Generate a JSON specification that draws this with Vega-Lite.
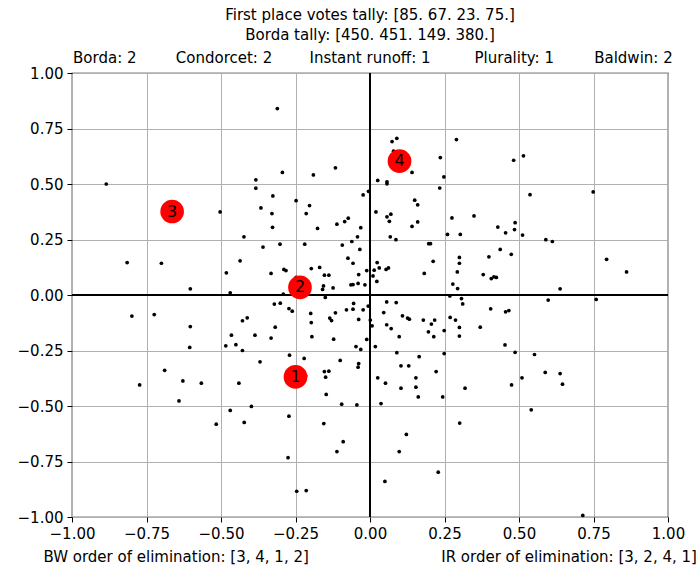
{
  "$schema": "https://vega.github.io/schema/vega-lite/v6.json",
  "width": 596,
  "height": 444,
  "autosize": {"type": "none"},
  "padding": {"left": 72, "top": 73, "right": 31, "bottom": 50},
  "background": "white",
  "title": {
    "text": ["First place votes tally: [85. 67. 23. 75.]", "Borda tally: [450. 451. 149. 380.]"],
    "font": "DejaVu Sans",
    "fontSize": 15,
    "fontWeight": "normal",
    "color": "black",
    "anchor": "middle",
    "frame": "group",
    "lineHeight": 20,
    "offset": 8
  },
  "config": {
    "view": {"stroke": "black", "strokeWidth": 1.2},
    "axis": {
      "labelFont": "DejaVu Sans",
      "labelFontSize": 15,
      "labelColor": "black",
      "tickColor": "black",
      "tickSize": 5,
      "tickWidth": 1,
      "labelPadding": 4,
      "domain": false,
      "grid": true,
      "gridColor": "#b0b0b0",
      "gridWidth": 1,
      "labelFlush": false,
      "labelOverlap": false,
      "title": null
    }
  },
  "datasets": {
    "voters": [
      {"x": -0.885, "y": 0.5}, {"x": -0.383, "y": 0.519}, {"x": -0.383, "y": 0.481}, {"x": -0.503, "y": 0.374}, {"x": -0.366, "y": 0.392},
      {"x": -0.311, "y": 0.84}, {"x": 0.074, "y": 0.691}, {"x": 0.09, "y": 0.706}, {"x": 0.079, "y": 0.648}, {"x": 0.29, "y": 0.7}, {"x": 0.236, "y": 0.619}, {"x": 0.141, "y": 0.552}, {"x": 0.248, "y": 0.532}, {"x": 0.234, "y": 0.482}, {"x": 0.026, "y": 0.516}, {"x": 0.057, "y": 0.51}, {"x": 0.057, "y": 0.501}, {"x": -0.294, "y": 0.552}, {"x": -0.19, "y": 0.541}, {"x": -0.116, "y": 0.573}, {"x": -0.326, "y": 0.446}, {"x": -0.329, "y": 0.367}, {"x": -0.248, "y": 0.425}, {"x": -0.203, "y": 0.403}, {"x": -0.214, "y": 0.367}, {"x": -0.023, "y": 0.451}, {"x": -0.005, "y": 0.467}, {"x": 0.02, "y": 0.374}, {"x": 0.057, "y": 0.352}, {"x": 0.07, "y": 0.364}, {"x": 0.065, "y": 0.332}, {"x": 0.15, "y": 0.427}, {"x": 0.16, "y": 0.406}, {"x": 0.16, "y": 0.329}, {"x": 0.275, "y": 0.347}, {"x": -0.085, "y": 0.331}, {"x": -0.073, "y": 0.346},
      {"x": 0.482, "y": 0.607}, {"x": 0.515, "y": 0.627}, {"x": 0.537, "y": 0.452}, {"x": 0.749, "y": 0.464}, {"x": 0.349, "y": 0.356}, {"x": 0.487, "y": 0.326},
      {"x": -0.327, "y": 0.305}, {"x": -0.423, "y": 0.262}, {"x": -0.359, "y": 0.216}, {"x": -0.815, "y": 0.146}, {"x": -0.7, "y": 0.143}, {"x": -0.436, "y": 0.154}, {"x": -0.482, "y": 0.1}, {"x": -0.332, "y": 0.097}, {"x": -0.603, "y": 0.028}, {"x": -0.469, "y": 0.01}, {"x": -0.799, "y": -0.095}, {"x": -0.724, "y": -0.088}, {"x": -0.603, "y": -0.142}, {"x": -0.428, "y": -0.116}, {"x": -0.412, "y": -0.103}, {"x": -0.465, "y": -0.181}, {"x": -0.386, "y": -0.181}, {"x": -0.332, "y": -0.194}, {"x": -0.605, "y": -0.236}, {"x": -0.484, "y": -0.229}, {"x": -0.45, "y": -0.224}, {"x": -0.428, "y": -0.25}, {"x": -0.369, "y": -0.301}, {"x": -0.689, "y": -0.339},
      {"x": -0.176, "y": 0.3}, {"x": -0.111, "y": 0.319}, {"x": -0.031, "y": 0.303}, {"x": 0.141, "y": 0.309},
      {"x": -0.302, "y": 0.229}, {"x": -0.219, "y": 0.229}, {"x": -0.042, "y": 0.262}, {"x": -0.061, "y": 0.241}, {"x": -0.093, "y": 0.225}, {"x": -0.034, "y": 0.205}, {"x": 0.068, "y": 0.262}, {"x": 0.087, "y": 0.249}, {"x": 0.197, "y": 0.231}, {"x": 0.203, "y": 0.231}, {"x": 0.26, "y": 0.273}, {"x": 0.303, "y": 0.273},
      {"x": -0.074, "y": 0.166}, {"x": -0.057, "y": 0.143}, {"x": 0.212, "y": 0.152}, {"x": 0.3, "y": 0.169}, {"x": 0.3, "y": 0.143},
      {"x": -0.289, "y": 0.115}, {"x": -0.282, "y": 0.11}, {"x": -0.197, "y": 0.119}, {"x": -0.169, "y": 0.124}, {"x": -0.153, "y": 0.089}, {"x": -0.138, "y": 0.089}, {"x": -0.248, "y": 0.079},
      {"x": -0.038, "y": 0.092}, {"x": -0.011, "y": 0.11}, {"x": 0.014, "y": 0.112}, {"x": 0.031, "y": 0.122}, {"x": 0.024, "y": 0.146}, {"x": 0.054, "y": 0.115}, {"x": 0.062, "y": 0.122}, {"x": 0.01, "y": 0.086}, {"x": 0.023, "y": 0.061},
      {"x": 0.182, "y": 0.097}, {"x": 0.293, "y": 0.104}, {"x": 0.278, "y": 0.049}, {"x": 0.294, "y": 0.029},
      {"x": -0.156, "y": 0.041}, {"x": -0.159, "y": 0.025}, {"x": -0.124, "y": 0.032}, {"x": -0.064, "y": 0.046}, {"x": -0.057, "y": 0.047}, {"x": -0.04, "y": 0.052}, {"x": -0.017, "y": 0.046},
      {"x": -0.291, "y": 0.004}, {"x": -0.321, "y": -0.041}, {"x": -0.301, "y": -0.037}, {"x": -0.15, "y": -0.011}, {"x": 0.268, "y": -0.004}, {"x": 0.307, "y": -0.016}, {"x": 0.311, "y": -0.04},
      {"x": -0.055, "y": -0.038}, {"x": -0.006, "y": -0.05}, {"x": 0.056, "y": -0.031}, {"x": 0.088, "y": -0.034},
      {"x": -0.272, "y": -0.061}, {"x": -0.261, "y": -0.073}, {"x": -0.199, "y": -0.083}, {"x": -0.116, "y": -0.08}, {"x": -0.079, "y": -0.067}, {"x": -0.057, "y": -0.064}, {"x": -0.023, "y": -0.067},
      {"x": -0.135, "y": -0.104}, {"x": -0.129, "y": -0.115}, {"x": -0.197, "y": -0.124}, {"x": -0.038, "y": -0.11}, {"x": 0.001, "y": -0.113}, {"x": 0.046, "y": -0.079}, {"x": 0.109, "y": -0.094}, {"x": 0.126, "y": -0.104}, {"x": 0.132, "y": -0.109}, {"x": 0.179, "y": -0.113}, {"x": 0.206, "y": -0.131}, {"x": 0.217, "y": -0.113}, {"x": 0.269, "y": -0.101}, {"x": 0.287, "y": -0.113}, {"x": 0.3, "y": -0.146}, {"x": 0.249, "y": -0.16}, {"x": 0.196, "y": -0.166}, {"x": 0.214, "y": -0.188}, {"x": 0.3, "y": -0.185},
      {"x": 0.007, "y": -0.139}, {"x": 0.056, "y": -0.134}, {"x": 0.071, "y": -0.151}, {"x": 0.098, "y": -0.188},
      {"x": -0.318, "y": -0.145}, {"x": -0.195, "y": -0.188}, {"x": -0.122, "y": -0.199}, {"x": -0.011, "y": -0.2}, {"x": -0.047, "y": -0.232}, {"x": -0.031, "y": -0.245}, {"x": 0.018, "y": -0.232}, {"x": 0.09, "y": -0.26}, {"x": 0.165, "y": -0.278}, {"x": 0.249, "y": -0.264},
      {"x": -0.27, "y": -0.271}, {"x": -0.221, "y": -0.286}, {"x": -0.1, "y": -0.295}, {"x": -0.038, "y": -0.309}, {"x": -0.04, "y": -0.325}, {"x": 0.104, "y": -0.319}, {"x": 0.13, "y": -0.319}, {"x": 0.222, "y": -0.345}, {"x": -0.153, "y": -0.345}, {"x": -0.138, "y": -0.343},
      {"x": 0.429, "y": 0.306}, {"x": 0.485, "y": 0.295}, {"x": 0.455, "y": 0.28}, {"x": 0.512, "y": 0.27}, {"x": 0.59, "y": 0.249}, {"x": 0.612, "y": 0.241}, {"x": 0.437, "y": 0.205}, {"x": 0.399, "y": 0.172}, {"x": 0.474, "y": 0.183}, {"x": 0.794, "y": 0.161}, {"x": 0.861, "y": 0.104}, {"x": 0.38, "y": 0.092}, {"x": 0.407, "y": 0.074}, {"x": 0.416, "y": 0.082}, {"x": 0.424, "y": 0.079}, {"x": 0.638, "y": 0.028}, {"x": 0.598, "y": -0.023}, {"x": 0.759, "y": -0.02}, {"x": 0.405, "y": -0.062}, {"x": 0.455, "y": -0.076}, {"x": 0.466, "y": -0.07}, {"x": 0.37, "y": -0.145}, {"x": 0.453, "y": -0.225}, {"x": 0.487, "y": -0.258}, {"x": 0.552, "y": -0.268},
      {"x": -0.773, "y": -0.405}, {"x": -0.628, "y": -0.387}, {"x": -0.566, "y": -0.397}, {"x": -0.641, "y": -0.477}, {"x": -0.44, "y": -0.397}, {"x": -0.398, "y": -0.502}, {"x": -0.469, "y": -0.52}, {"x": -0.516, "y": -0.582}, {"x": -0.422, "y": -0.574},
      {"x": -0.28, "y": -0.373}, {"x": -0.216, "y": -0.364}, {"x": -0.149, "y": -0.37}, {"x": -0.147, "y": -0.448}, {"x": -0.095, "y": -0.492}, {"x": -0.044, "y": -0.495}, {"x": -0.272, "y": -0.546}, {"x": -0.155, "y": -0.579}, {"x": -0.09, "y": -0.661}, {"x": -0.111, "y": -0.705}, {"x": -0.275, "y": -0.733}, {"x": -0.246, "y": -0.884}, {"x": -0.214, "y": -0.881}, {"x": 0.026, "y": -0.373}, {"x": 0.052, "y": -0.397}, {"x": 0.154, "y": -0.373}, {"x": 0.104, "y": -0.42}, {"x": 0.154, "y": -0.415}, {"x": 0.162, "y": -0.459}, {"x": 0.037, "y": -0.489}, {"x": 0.244, "y": -0.459}, {"x": 0.319, "y": -0.42}, {"x": 0.301, "y": -0.577}, {"x": 0.122, "y": -0.628}, {"x": 0.098, "y": -0.705}, {"x": 0.229, "y": -0.798}, {"x": 0.05, "y": -0.84},
      {"x": 0.588, "y": -0.349}, {"x": 0.638, "y": -0.354}, {"x": 0.51, "y": -0.373}, {"x": 0.475, "y": -0.405}, {"x": 0.646, "y": -0.402}, {"x": 0.541, "y": -0.517}, {"x": 0.714, "y": -0.993}
    ],
    "zero": [{"v": 0}],
    "candidates": [
      {"x": -0.25, "y": -0.369, "label": "1"},
      {"x": -0.235, "y": 0.034, "label": "2"},
      {"x": -0.664, "y": 0.376, "label": "3"},
      {"x": 0.099, "y": 0.603, "label": "4"}
    ],
    "toplabels": [
      {"x": -0.89, "y": 1.045, "text": "Borda: 2"},
      {"x": -0.49, "y": 1.045, "text": "Condorcet: 2"},
      {"x": 0.0, "y": 1.045, "text": "Instant runoff: 1"},
      {"x": 0.484, "y": 1.045, "text": "Plurality: 1"},
      {"x": 0.884, "y": 1.045, "text": "Baldwin: 2"}
    ],
    "bottomleft": [
      {"x": -1.096, "y": -1.203, "text": "BW order of elimination: [3, 4, 1, 2]"}
    ],
    "bottomright": [
      {"x": 1.097, "y": -1.203, "text": "IR order of elimination: [3, 2, 4, 1]"}
    ]
  },
  "layer": [
    {
      "data": {"name": "voters"},
      "mark": {"type": "point", "filled": true, "color": "black", "size": 14, "opacity": 1},
      "encoding": {
        "x": {"field": "x", "type": "quantitative", "scale": {"domain": [-1, 1], "nice": false, "zero": false}, "axis": {"values": [-1, -0.75, -0.5, -0.25, 0, 0.25, 0.5, 0.75, 1], "format": ".2f"}},
        "y": {"field": "y", "type": "quantitative", "scale": {"domain": [-1, 1], "nice": false, "zero": false}, "axis": {"values": [-1, -0.75, -0.5, -0.25, 0, 0.25, 0.5, 0.75, 1], "format": ".2f"}}
      }
    },
    {
      "data": {"name": "zero"},
      "mark": {"type": "rule", "color": "black", "strokeWidth": 2},
      "encoding": {"y": {"field": "v", "type": "quantitative"}}
    },
    {
      "data": {"name": "zero"},
      "mark": {"type": "rule", "color": "black", "strokeWidth": 2},
      "encoding": {"x": {"field": "v", "type": "quantitative"}}
    },
    {
      "data": {"name": "candidates"},
      "mark": {"type": "point", "filled": true, "color": "#ff0000", "size": 560, "opacity": 1},
      "encoding": {
        "x": {"field": "x", "type": "quantitative"},
        "y": {"field": "y", "type": "quantitative"}
      }
    },
    {
      "data": {"name": "candidates"},
      "mark": {"type": "text", "font": "DejaVu Sans", "fontSize": 16, "color": "black", "align": "center", "baseline": "middle"},
      "encoding": {
        "x": {"field": "x", "type": "quantitative"},
        "y": {"field": "y", "type": "quantitative"},
        "text": {"field": "label"}
      }
    },
    {
      "data": {"name": "toplabels"},
      "mark": {"type": "text", "font": "DejaVu Sans", "fontSize": 15, "color": "black", "align": "center", "baseline": "alphabetic"},
      "encoding": {
        "x": {"field": "x", "type": "quantitative"},
        "y": {"field": "y", "type": "quantitative"},
        "text": {"field": "text"}
      }
    },
    {
      "data": {"name": "bottomleft"},
      "mark": {"type": "text", "font": "DejaVu Sans", "fontSize": 15, "color": "black", "align": "left", "baseline": "alphabetic"},
      "encoding": {
        "x": {"field": "x", "type": "quantitative"},
        "y": {"field": "y", "type": "quantitative"},
        "text": {"field": "text"}
      }
    },
    {
      "data": {"name": "bottomright"},
      "mark": {"type": "text", "font": "DejaVu Sans", "fontSize": 15, "color": "black", "align": "right", "baseline": "alphabetic"},
      "encoding": {
        "x": {"field": "x", "type": "quantitative"},
        "y": {"field": "y", "type": "quantitative"},
        "text": {"field": "text"}
      }
    }
  ]
}
